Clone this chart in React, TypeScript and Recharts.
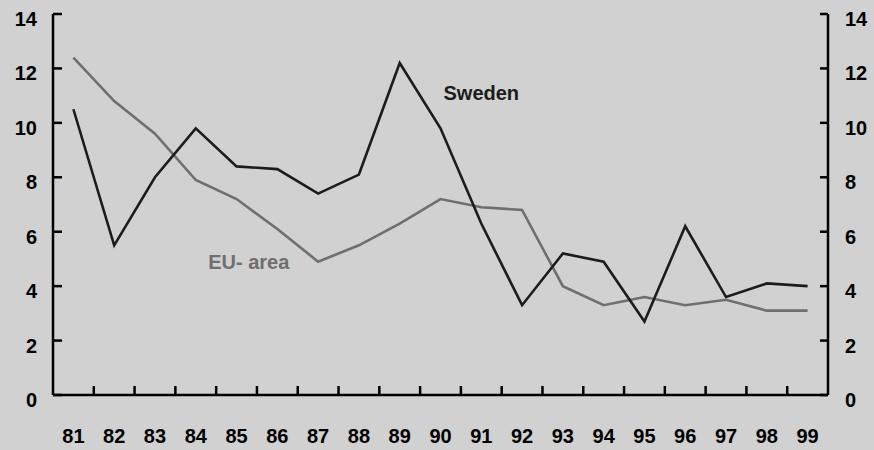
import React from "react";
import { LineChart, Line, XAxis, YAxis, ReferenceDot } from "recharts";

const years = [81, 82, 83, 84, 85, 86, 87, 88, 89, 90, 91, 92, 93, 94, 95, 96, 97, 98, 99];
const sweden = [10.5, 5.5, 8.0, 9.8, 8.4, 8.3, 7.4, 8.1, 12.2, 9.8, 6.3, 3.3, 5.2, 4.9, 2.7, 6.2, 3.6, 4.1, 4.0];
const euArea = [12.4, 10.8, 9.6, 7.9, 7.2, 6.1, 4.9, 5.5, 6.3, 7.2, 6.9, 6.8, 4.0, 3.3, 3.6, 3.3, 3.5, 3.1, 3.1];
const yTicks = [0, 2, 4, 6, 8, 10, 12, 14];
const xTickMarks = [81.5, 82.5, 83.5, 84.5, 85.5, 86.5, 87.5, 88.5, 89.5, 90.5, 91.5, 92.5, 93.5, 94.5, 95.5, 96.5, 97.5, 98.5];
const xTicks = [...years, ...xTickMarks].sort((a, b) => a - b);
const labels = [
  { name: "Sweden", x: 91, y: 11.1, color: "#1c1c1c" },
  { name: "EU- area", x: 85.3, y: 4.9, color: "#6f6f6f" },
];

const data = years.map((y, i) => ({ year: y, sweden: sweden[i], eu: euArea[i] }));

const FONT = "'Liberation Sans', Arial, sans-serif";

const XTick = (props: any) => {
  const { x, y, payload } = props;
  const v = payload.value;
  if (Number.isInteger(v)) {
    return (
      <text x={x} y={y + 48} textAnchor="middle" fontFamily={FONT} fontWeight="bold" fontSize={20} fill="#000">
        {v}
      </text>
    );
  }
  return <path d={`M${x},${y}V${y - 9}`} stroke="#000" strokeWidth={2.5} />;
};

const LeftTick = (props: any) => {
  const { x, y, payload } = props;
  return (
    <g>
      <path d={`M${x},${y}H${x + 9}`} stroke="#000" strokeWidth={2.5} />
      <text x={x - 16} y={y + 12} textAnchor="end" fontFamily={FONT} fontWeight="bold" fontSize={20} fill="#000">
        {payload.value}
      </text>
    </g>
  );
};

const RightTick = (props: any) => {
  const { x, y, payload } = props;
  return (
    <g>
      <path d={`M${x},${y}H${x - 8}`} stroke="#000" strokeWidth={2.5} />
      <text x={x + 17} y={y + 12} textAnchor="start" fontFamily={FONT} fontWeight="bold" fontSize={20} fill="#000">
        {payload.value}
      </text>
    </g>
  );
};

export default function App() {
  return (
    <div style={{ position: "absolute", left: 0, top: 0, width: 874, height: 450, background: "#d1d1d1" }}>
      <LineChart width={874} height={450} data={data} margin={{ top: 14, right: 0, bottom: 0, left: 0 }}>
        <XAxis
          dataKey="year"
          type="number"
          domain={[80.5, 99.5]}
          ticks={xTicks}
          interval={0}
          allowDataOverflow
          height={55}
          tickSize={0}
          tickMargin={0}
          tickLine={false}
          tick={<XTick />}
          axisLine={{ stroke: "#000", strokeWidth: 2.5 }}
        />
        <YAxis
          yAxisId="left"
          domain={[0, 14]}
          ticks={yTicks}
          interval={0}
          width={53}
          tickSize={0}
          tickMargin={0}
          tickLine={false}
          tick={<LeftTick />}
          axisLine={{ stroke: "#000", strokeWidth: 2.5 }}
        />
        <YAxis
          yAxisId="right"
          orientation="right"
          domain={[0, 14]}
          ticks={yTicks}
          interval={0}
          width={46}
          tickSize={0}
          tickMargin={0}
          tickLine={false}
          tick={<RightTick />}
          axisLine={{ stroke: "#000", strokeWidth: 2.5 }}
        />
        <Line yAxisId="left" dataKey="eu" stroke="#6f6f6f" strokeWidth={2.6} dot={false} isAnimationActive={false} />
        <Line yAxisId="right" dataKey="sweden" stroke="#1c1c1c" strokeWidth={2.6} dot={false} isAnimationActive={false} />
        {labels.map((l) => (
          <ReferenceDot
            key={l.name}
            yAxisId="left"
            x={l.x}
            y={l.y}
            r={0}
            shape={(p: any) => (
              <text x={p.cx} y={p.cy + 7} textAnchor="middle" fontFamily={FONT} fontWeight="bold" fontSize={20} fill={l.color}>
                {l.name}
              </text>
            )}
          />
        ))}
      </LineChart>
    </div>
  );
}
